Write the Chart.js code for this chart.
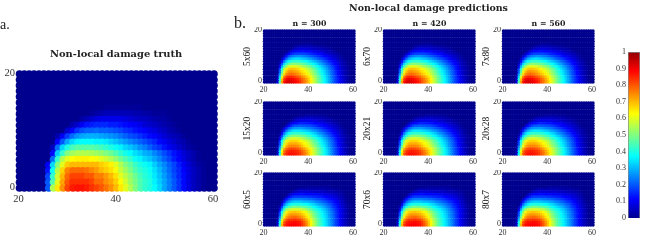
<!DOCTYPE html>
<html>
<head>
<meta charset="utf-8">
<script src="https://cdn.jsdelivr.net/npm/chart.js@4/dist/chart.umd.js"></script>
<style>
  html, body { margin: 0; padding: 0; background: #fff; }
  #page { position: relative; width: 646px; height: 241px; overflow: hidden; filter: blur(0.35px); }
  canvas { position: absolute; }
  .lbl { position: absolute; color: #222; white-space: nowrap; font-family: "Liberation Serif", serif; }
  .bold { font-family: "DejaVu Serif", serif; font-weight: bold; }
</style>
</head>
<body>
<div id="page">
  <div class="lbl" style="left:0px;top:17px;font-size:14px">a.</div>
  <div class="lbl" style="left:234px;top:14px;font-size:16px">b.</div>
  <div class="lbl bold" style="left:50px;top:48px;font-size:9.9px">Non-local damage truth</div>
  <div class="lbl bold" style="left:349px;top:2px;font-size:9.45px">Non-local damage predictions</div>
</div>
<script>
// rows run from y=0 upward, each row starts at x=25, whatever is missing is 0
const xTicks = [20, 40, 60];
const colTitles = ["n = 300", "n = 420", "n = 560"];
const rowTitles = [["5x60", "6x70", "7x80"], ["15x20", "20x21", "20x28"], ["60x5", "70x6", "80x7"]];
const barTicks = [0, 0.1, 0.2, 0.3, 0.4, 0.5, 0.6, 0.7, 0.8, 0.9, 1];
const barValue = [1];

const truthRows = [
  [0,20,55,65,74,82,86,87,87,86,84,82,80,77,74,70,65,60,55,50,45,42,40,37,33,28,24,20,16,12,8,5,3,1],
  [0,20,45,60,72,80,84,84,84,84,82,78,78,74,72,68,63,58,53,49,45,42,40,36,32,28,24,20,16,12,8,5,3,1],
  [0,18,42,58,70,78,82,82,82,80,80,76,76,73,70,66,60,56,52,48,44,41,39,35,31,27,23,19,15,12,8,5,3,1],
  [0,13,38,55,67,75,78,78,78,77,75,73,70,68,66,62,57,53,49,45,42,40,38,34,30,26,22,18,15,11,8,5,3,1],
  [0,10,33,50,60,68,70,70,70,70,70,70,68,66,64,60,55,50,47,43,40,38,36,32,28,25,21,18,14,10,7,4,2,1],
  [0,0,22,42,55,60,63,64,64,64,63,62,60,58,55,52,48,45,42,38,36,33,31,28,25,21,18,14,11,8,5,3,1],
  [0,0,12,32,42,50,53,55,55,55,54,53,52,50,48,45,42,39,37,34,32,29,28,25,22,19,16,13,10,7,5,3,1],
  [0,0,5,22,33,40,44,46,46,46,46,45,44,42,40,38,36,33,31,29,26,24,21,18,16,13,10,8,6,4,2,1],
  [0,0,0,11,20,28,33,36,37,37,37,36,36,35,33,31,29,27,25,23,21,19,17,15,12,10,8,6,4,3,1],
  [0,0,0,3,10,17,22,26,28,29,29,29,28,27,26,25,23,21,19,18,16,14,12,11,9,7,5,4,3,1],
  [0,0,0,0,0,6,11,16,19,21,21,22,21,21,20,19,18,16,15,13,12,11,9,8,6,5,3,2,1],
  [0,0,0,0,0,0,3,6,10,13,14,15,15,15,14,14,13,12,11,10,9,7,6,5,4,3,2,1],
  [0,0,0,0,0,0,0,0,2,4,6,8,9,9,9,9,9,8,7,6,5,5,4,3,2,2,1],
  [0,0,0,0,0,0,0,0,0,0,1,2,3,4,4,4,4,4,4,3,3,2,2,1,1,1],
  [0,0,0,0,0,0,0,0,0,0,0,0,0,1,1,1,1,1,1,1,1],
];

// top row of panels
const predRowsShallow = [
  [0,8,45,72,87,92,93,92,91,89,87,84,80,77,73,69,64,59,54,49,45,41,37,33,29,25,21,17,14,11,8,5,3,1],
  [0,6,40,68,83,89,91,90,89,87,85,82,79,76,72,68,63,58,54,49,45,41,37,33,29,25,21,17,14,10,8,5,3,1],
  [0,4,33,60,76,83,85,85,84,82,80,78,75,72,69,65,61,56,52,48,44,40,36,32,28,24,20,17,13,10,7,5,3,1],
  [0,2,25,50,66,74,77,78,77,76,74,72,69,67,64,61,57,53,49,45,41,38,34,30,27,23,19,16,12,9,7,4,2,1],
  [0,1,21,45,60,69,73,74,73,72,71,68,66,64,61,58,55,51,47,43,40,36,33,29,26,22,19,15,12,9,6,4,2,1],
  [0,1,17,40,55,64,68,69,69,68,67,65,63,60,58,55,52,48,45,41,38,34,31,28,24,21,18,14,11,8,6,4,2,1],
  [0,0,10,29,44,53,58,60,60,60,59,57,55,53,51,49,46,43,40,37,34,31,28,25,22,19,16,13,10,7,5,3,2,1],
  [0,0,5,19,33,42,47,50,51,51,50,49,48,46,44,42,40,37,35,32,29,27,24,21,19,16,13,11,8,6,4,3,1],
  [0,0,2,11,23,32,37,40,42,42,42,41,40,39,37,35,33,31,29,27,25,22,20,18,15,13,11,9,7,5,3,2,1],
  [0,0,0,5,14,22,28,31,33,34,34,33,32,31,30,28,27,25,23,21,19,18,16,14,12,10,8,7,5,3,2,1],
  [0,0,0,1,6,13,19,22,24,25,26,26,25,24,23,22,20,19,18,16,15,13,12,10,9,7,6,5,3,2,1],
  [0,0,0,0,1,5,10,14,16,18,18,18,18,18,17,16,15,14,13,12,11,10,8,7,6,5,4,3,2,1],
  [0,0,0,0,0,0,3,7,9,11,12,12,12,12,11,11,10,9,9,8,7,6,5,4,4,3,2,1],
  [0,0,0,0,0,0,0,1,3,5,6,7,7,7,7,6,6,5,5,4,4,3,3,2,2,1],
  [0,0,0,0,0,0,0,0,0,1,2,3,3,3,3,3,3,2,2,2,1,1,1],
  [0,0,0,0,0,0,0,0,0,0,0,0,1,1,1,1,1],
];

// middle row of panels
const predRowsSquare = [
  [0,6,38,66,80,85,87,87,87,86,85,83,80,77,73,69,64,59,55,50,46,42,38,34,30,26,22,18,15,11,8,6,3,1],
  [0,5,35,62,77,83,85,86,86,85,84,82,79,76,72,68,64,59,54,50,46,42,38,34,30,26,22,18,15,11,8,5,3,1],
  [0,3,29,55,71,78,81,82,82,81,80,78,75,72,69,65,61,57,53,49,45,41,37,33,29,25,21,18,14,11,8,5,3,1],
  [0,2,22,46,62,70,74,75,75,75,74,72,69,66,64,60,57,53,49,46,42,38,35,31,27,24,20,17,13,10,7,5,3,1],
  [0,1,18,41,57,66,70,71,71,71,70,68,66,63,61,58,54,50,47,44,40,36,33,30,26,23,19,16,12,9,7,4,2,1],
  [0,0,15,37,52,61,65,67,67,67,66,64,62,60,58,55,52,48,45,42,38,35,32,29,25,22,19,15,12,9,7,4,2,1],
  [0,0,9,27,42,51,56,58,59,59,58,57,55,53,51,49,46,43,41,38,35,32,29,26,23,20,17,14,11,8,6,4,2,1],
  [0,0,4,18,32,41,46,49,50,51,50,49,48,47,45,43,41,38,36,33,31,28,25,23,20,17,15,12,9,7,5,3,2,1],
  [0,0,1,10,23,32,37,40,42,42,42,42,41,40,38,37,35,33,31,28,26,24,22,19,17,15,12,10,8,6,4,2,1],
  [0,0,0,5,14,23,28,32,34,35,35,35,34,33,32,31,29,27,26,24,22,20,18,16,14,12,10,8,6,5,3,2,1],
  [0,0,0,1,7,14,20,23,26,27,27,27,27,26,25,24,23,22,20,19,17,16,14,13,11,9,8,6,5,3,2,1],
  [0,0,0,0,0,6,11,15,18,20,20,21,20,20,19,19,18,17,16,14,13,12,11,10,8,7,6,5,3,2,1],
  [0,0,0,0,0,0,4,8,10,12,13,14,14,14,14,13,13,12,11,10,10,9,8,7,6,5,4,3,2,1],
  [0,0,0,0,0,0,0,2,4,6,8,9,9,9,9,9,9,8,8,7,6,6,5,4,4,3,2,2,1],
  [0,0,0,0,0,0,0,0,0,2,3,4,4,5,5,5,5,5,4,4,4,3,3,2,2,1,1],
  [0,0,0,0,0,0,0,0,0,0,0,1,1,1,2,2,2,2,2,2,1,1,1,1],
];

// bottom row of panels
const predRowsTail = [
  [0,7,42,70,83,87,88,89,89,89,88,87,84,80,75,69,63,57,52,47,43,40,36,33,29,26,22,18,15,11,8,5,3,1],
  [0,6,38,66,80,85,87,87,88,88,87,86,83,79,74,69,63,57,52,47,43,40,36,33,29,26,22,18,15,11,8,5,3,1],
  [0,4,31,58,73,80,83,83,84,84,83,82,79,75,71,66,61,55,51,46,43,39,36,32,29,25,22,18,15,11,8,5,3,1],
  [0,2,23,48,64,72,76,77,78,78,77,75,73,70,66,62,57,52,48,44,41,38,35,32,28,25,22,18,14,11,8,5,3,1],
  [0,1,19,43,58,67,71,73,73,73,72,71,69,66,63,59,55,50,46,43,40,37,34,31,27,24,21,17,14,11,8,5,3,1],
  [0,0,15,37,52,62,67,68,69,69,68,67,65,63,60,56,52,48,45,41,39,36,33,30,27,24,21,17,14,11,8,5,3,1],
  [0,0,8,27,43,52,56,58,59,59,59,58,56,55,52,49,46,43,40,38,36,33,31,28,25,22,19,16,13,10,8,5,3,1],
  [0,0,4,17,32,40,45,47,49,49,49,48,47,46,45,43,41,38,36,34,32,30,28,25,23,20,17,15,12,9,7,4,2,1],
  [0,0,0,9,22,30,35,38,39,40,40,39,39,38,37,36,34,33,31,29,27,26,24,22,20,18,15,13,10,8,6,4,2,1],
  [0,0,0,3,13,21,26,29,31,32,32,32,31,30,30,29,28,27,25,24,23,21,20,18,16,15,13,11,9,7,5,3,1],
  [0,0,0,0,6,13,18,21,23,24,24,24,24,23,23,22,22,21,20,19,18,17,16,14,13,12,10,9,7,5,4,2,1],
  [0,0,0,0,0,5,10,14,16,17,17,17,17,17,17,16,16,15,15,14,14,13,12,11,10,9,8,7,5,4,3,1],
  [0,0,0,0,0,0,3,7,9,11,11,12,12,12,11,11,11,10,10,10,9,9,8,8,7,6,6,5,4,3,2,1],
  [0,0,0,0,0,0,0,1,3,5,6,7,7,7,7,7,6,6,6,6,5,5,5,4,4,4,3,3,2,2,1],
  [0,0,0,0,0,0,0,0,0,1,2,3,3,3,3,3,3,3,3,3,3,3,2,2,2,2,2,1,1,1],
  [0,0,0,0,0,0,0,0,0,0,0,0,0,0,0,1,1,1,1,1,1,1,1,1,1],
];

const panelRows = [predRowsShallow, predRowsSquare, predRowsTail];

function clamp01(v) {
  return Math.min(1, Math.max(0, v));
}

function jet(v) {
  const t = 1 / 64 + clamp01(v) * 62 / 64;
  const r = clamp01(1.5 - Math.abs(4 * t - 3));
  const g = clamp01(1.5 - Math.abs(4 * t - 2));
  const b = clamp01(1.5 - Math.abs(4 * t - 1));
  return `rgb(${Math.round(r * 255)},${Math.round(g * 255)},${Math.round(b * 255)})`;
}

function gridPoints(rows) {
  const pts = [];
  for (let y = 20; y >= 0; y--) {
    for (let x = 20; x <= 60; x++) {
      const row = rows[y] || [];
      const pct = x >= 25 ? (row[x - 25] || 0) : 0;
      pts.push({ x: x, y: y, v: pct / 100 });
    }
  }
  return pts;
}

function addCanvas(left, top, w, h) {
  const c = document.createElement("canvas");
  c.width = w;
  c.height = h;
  c.style.left = left + "px";
  c.style.top = top + "px";
  document.getElementById("page").appendChild(c);
  return c;
}

function fieldChart(opts) {
  // canvas sits around the plot area, yW and xH are reserved for the tick labels
  const yW = opts.yW, xH = opts.xH, pad = 5, top = opts.titleH;
  const c = addCanvas(opts.left - yW, opts.top - top, yW + opts.w + pad * 2, top + opts.h + xH);
  return new Chart(c, {
    type: "scatter",
    data: {
      datasets: [{
        data: gridPoints(opts.rows),
        clip: false,
        pointRadius: opts.radius,
        pointHoverRadius: opts.radius,
        pointBorderWidth: 0,
        pointBackgroundColor: (p) => jet(p.raw ? p.raw.v : 0),
      }],
    },
    options: {
      responsive: false,
      animation: false,
      events: [],
      layout: { padding: { left: 0, right: pad * 2, top: top, bottom: 0 } },
      plugins: { legend: { display: false }, tooltip: { enabled: false }, title: { display: false } },
      scales: {
        x: {
          type: "linear", min: 20, max: 60,
          grid: { display: false, drawTicks: false }, border: { display: false },
          afterFit: (s) => { s.height = xH; s.paddingLeft = 0; s.paddingRight = 0; },
          afterBuildTicks: (s) => { s.ticks = xTicks.map((v) => ({ value: v })); },
          ticks: { color: "#333", padding: opts.tickPad, labelOffset: -1, maxRotation: 0, font: { family: "Liberation Serif", size: opts.font } },
        },
        y: {
          type: "linear", min: 0, max: 20,
          grid: { display: false, drawTicks: false }, border: { display: false },
          afterFit: (s) => { s.width = yW; s.paddingTop = 0; s.paddingBottom = 0; },
          ticks: {
            stepSize: 20, color: "#333", padding: opts.yPad, labelOffset: -1,
            font: { family: "Liberation Serif", size: opts.font },
          },
          title: opts.yTitle ? {
            display: true, text: opts.yTitle, color: "#222", padding: { top: 1, bottom: 0 },
            font: { family: "Liberation Serif", size: 9.5 },
          } : { display: false },
        },
      },
    },
  });
}

function addLabel(text, left, top, size) {
  const d = document.createElement("div");
  d.className = "lbl bold";
  d.textContent = text;
  d.style.left = left + "px";
  d.style.top = top + "px";
  d.style.fontSize = size + "px";
  document.getElementById("page").appendChild(d);
}

function colorbarChart() {
  const c = addCanvas(610, 45, 32, 180);
  new Chart(c, {
    type: "bar",
    data: {
      labels: [""],
      datasets: [{
        data: barValue,
        barPercentage: 1,
        categoryPercentage: 1,
        borderWidth: 1,
        borderColor: "#888",
        backgroundColor: (p) => {
          const area = p.chart.chartArea;
          if (!area) return "#000080";
          const g = p.chart.ctx.createLinearGradient(0, area.bottom, 0, area.top);
          for (let i = 0; i <= 64; i++) g.addColorStop(i / 64, jet(i / 64));
          return g;
        },
      }],
    },
    options: {
      responsive: false,
      animation: false,
      events: [],
      layout: { padding: { top: 7, bottom: 7, left: 0, right: 2 } },
      plugins: { legend: { display: false }, tooltip: { enabled: false } },
      scales: {
        x: { display: false },
        y: {
          min: 0, max: 1,
          grid: { display: false, drawTicks: false }, border: { display: false },
          afterFit: (s) => { s.width = 18; },
          afterBuildTicks: (s) => { s.ticks = barTicks.map((v) => ({ value: v })); },
          ticks: { color: "#333", padding: 2, callback: (v) => String(v), font: { family: "Liberation Serif", size: 8 } },
        },
      },
    },
  });
}

fieldChart({ left: 19.5, top: 74, w: 194.5, h: 114, yW: 19.5, xH: 18, titleH: 6, radius: 3.8, font: 10.5, tickPad: 5, yPad: 4.5, rows: truthRows });

const colLefts = [264.5, 384.5, 503.5];
const rowTops = [31, 103, 174];
rowTops.forEach((top, r) => {
  colLefts.forEach((left, k) => {
    fieldChart({ left: left, top: top, w: 89.5, h: 51, yW: 23.5, xH: 14, titleH: 4, radius: 1.75, font: 8, tickPad: 3, yPad: 2.5, rows: panelRows[r], yTitle: rowTitles[r][k] });
  });
});
colTitles.forEach((t, k) => addLabel(t, colLefts[k] + 28, 19, 7.8));

colorbarChart();
</script>
</body>
</html>
